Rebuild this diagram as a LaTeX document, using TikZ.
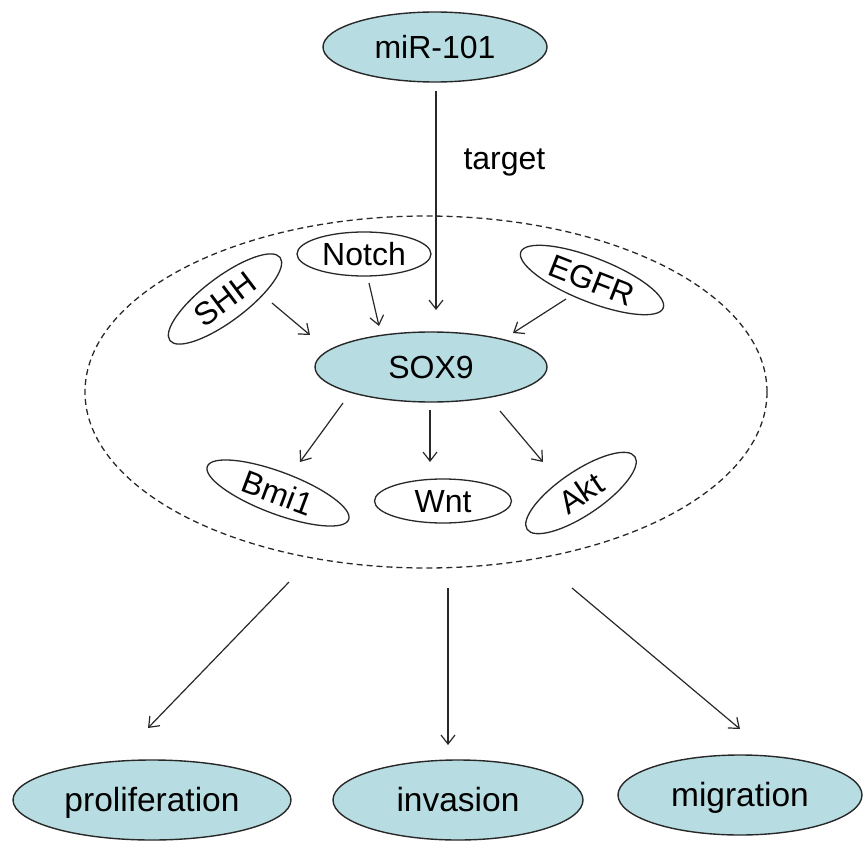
\documentclass[tikz,border=0pt]{standalone}
\usepackage{fontspec}
\setmainfont{Liberation Sans}
\usetikzlibrary{shapes.geometric,arrows.meta,calc}
\definecolor{cellfill}{RGB}{183,221,226}
\definecolor{inkgray}{RGB}{40,40,40}
\begin{document}
\begin{tikzpicture}[x=1pt,y=-1pt,
  lbl/.style={font=\fontsize{32}{38}\selectfont, text=black},
  biglbl/.style={font=\fontsize{33.5}{40}\selectfont, text=black},
  blob/.style={ellipse, draw=inkgray, line width=1.4pt, fill=cellfill, inner sep=0pt, lbl, text height=23pt, text depth=0pt},
  ring/.style={ellipse, draw=inkgray, line width=1.3pt, fill=white, inner sep=0pt, lbl, text height=23pt, text depth=0pt},
  arr/.style={draw=inkgray, line width=1.2pt, -{Straight Barb[length=9pt,width=14pt]}},
  groupring/.style={ellipse, draw=inkgray, line width=1.3pt, dash pattern=on 6pt off 4pt, inner sep=0pt},
]
\useasboundingbox (0,0) rectangle (864,842);

\node[groupring, minimum width=682pt, minimum height=352pt] (grp) at (426,392) {};

\node[blob, minimum width=224pt, minimum height=70pt] (mir) at (435,47) {miR-101};
\node[blob, minimum width=232pt, minimum height=70pt] (sox9) at (431,367) {SOX9};

\node[ring, minimum width=134pt, minimum height=44pt] (notch) at (364,254) {Notch};
\node[ring, rotate=37, minimum width=138pt, minimum height=44pt] (shh) at (225,299) {SHH};
\node[ring, rotate=-21.5, minimum width=153pt, minimum height=44pt] (egfr) at (592,280) {EGFR};

\node[ring, rotate=-20.6, minimum width=151pt, minimum height=42pt] (bmi) at (278,493) {Bmi1};
\node[ring, minimum width=137pt, minimum height=44pt] (wnt) at (443,501) {Wnt};
\node[ring, rotate=34, minimum width=130pt, minimum height=44pt] (akt) at (581,493) {Akt};

\node[blob, biglbl, minimum width=278pt, minimum height=80pt] (prolif) at (152,800) {proliferation};
\node[blob, biglbl, minimum width=250pt, minimum height=80pt] (inv) at (458,800) {invasion};
\node[blob, biglbl, minimum width=244pt, minimum height=80pt] (mig) at (740,795) {migration};

\node[lbl, anchor=west] (target) at (460,162) {target};

% connectors
\draw[arr] ($(mir)+(1,44)$) -- ($(sox9)+(5,-57)$);
\draw[arr] ($(shh)+(47,4)$) -- ($(sox9)+(-121,-32)$);
\draw[arr] ($(notch)+(5,29)$) -- ($(sox9)+(-52,-41)$);
\draw[arr] ($(egfr)+(-26,19)$) -- ($(sox9)+(82,-34)$);
\draw[arr] ($(sox9)+(-88,36)$) -- ($(bmi)+(22,-31)$);
\draw[arr] ($(sox9)+(-1,43)$) -- ($(wnt)+(-13,-39)$);
\draw[arr] ($(sox9)+(69,44)$) -- ($(akt)+(-38,-31)$);
\draw[arr] ($(grp)+(-137,190)$) -- ($(prolif)+(-4,-72)$);
\draw[arr] ($(grp)+(22,196)$) -- ($(inv)+(-10,-55)$);
\draw[arr] ($(grp)+(146,196)$) -- ($(mig)+(0,-66)$);
\end{tikzpicture}
\end{document}
